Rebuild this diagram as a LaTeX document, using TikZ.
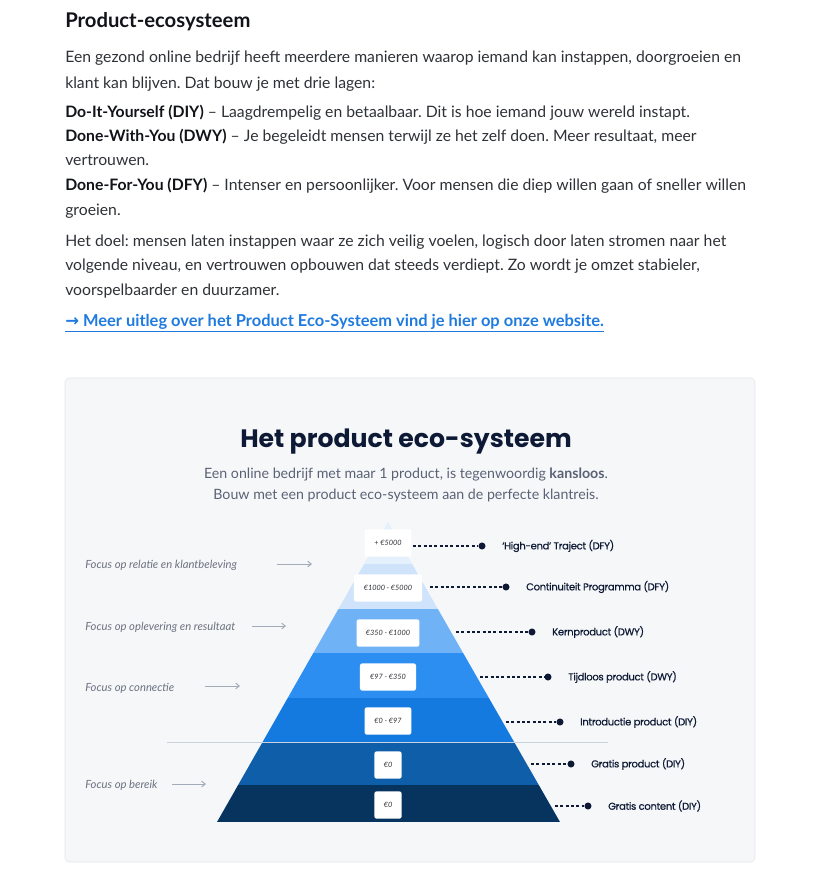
\documentclass[tikz,border=0pt]{standalone}
\usepackage{fontspec}
\setmainfont{Lato}
\newfontfamily\headfont{Poppins}
\newfontfamily\symfont{DejaVu Sans}
\usetikzlibrary{positioning,arrows.meta}
\frenchspacing

\definecolor{bodygray}{HTML}{2E3136}
\definecolor{inkblack}{HTML}{111318}
\definecolor{linkblue}{HTML}{1F7AE0}
\definecolor{cardfill}{HTML}{F6F7F9}
\definecolor{cardline}{HTML}{E2E5EA}
\definecolor{navy}{HTML}{0E1A35}
\definecolor{subgray}{HTML}{5A6275}
\definecolor{focusgray}{HTML}{6B7280}
\definecolor{arrowgray}{HTML}{A3AAB8}
\definecolor{sepgray}{HTML}{C9D1DD}
\definecolor{tierA}{HTML}{E4F0FC}
\definecolor{tierB}{HTML}{CFE4FB}
\definecolor{tierC}{HTML}{6FB2F5}
\definecolor{tierD}{HTML}{2B8EF0}
\definecolor{tierE}{HTML}{147AE0}
\definecolor{tierF}{HTML}{0F5EA9}
\definecolor{tierG}{HTML}{07345F}

\begin{document}
\begin{tikzpicture}[
    x=0.025cm, y=-0.025cm,
    bodytxt/.style={anchor=base west, inner sep=0pt, font=\fontsize{11.2}{13}\selectfont, text=bodygray},
    focus_lbl/.style={anchor=west, inner sep=0pt, font=\fontsize{8}{9}\selectfont\itshape, text=focusgray},
    focus_arrow/.style={-{Straight Barb[length=2.5pt,width=4pt]}, arrowgray, line width=0.7pt},
    price_box/.style={rectangle, rounded corners=1.5pt, fill=white, minimum height=0.68cm, inner sep=0pt, font=\fontsize{5.2}{6}\selectfont\itshape, text=bodygray},
    tier_line/.style={dash pattern=on 2pt off 1.8pt, navy, line width=0.8pt},
    tier_dot/.style={circle, fill=navy, inner sep=0pt, minimum size=5pt},
    tier_lbl/.style={anchor=west, inner sep=0pt, font=\headfont\addfontfeature{LetterSpace=-3,FakeBold=0.6}\fontsize{7.1}{9}\selectfont, text=navy}
]
    \useasboundingbox (0,0) rectangle (818,870);

    % Intro text
    \node[bodytxt, font=\fontsize{14.4}{17}\selectfont\bfseries, text=inkblack] (kop) at (65,27) {Product-ecosysteem};
    \node[bodytxt] (intro1) at (65,62) {Een gezond online bedrijf heeft meerdere manieren waarop iemand kan instappen, doorgroeien en};
    \node[bodytxt] (intro2) at (65,88) {klant kan blijven. Dat bouw je met drie lagen:};
    \node[bodytxt] (diy) at (65,117) {\textcolor{inkblack}{\bfseries Do-It-Yourself (DIY)} -- Laagdrempelig en betaalbaar. Dit is hoe iemand jouw wereld instapt.};
    \node[bodytxt] (dwy1) at (65,141) {\textcolor{inkblack}{\bfseries Done-With-You (DWY)} -- Je begeleidt mensen terwijl ze het zelf doen. Meer resultaat, meer};
    \node[bodytxt] (dwy2) at (65,165) {vertrouwen.};
    \node[bodytxt] (dfy1) at (65,190) {\textcolor{inkblack}{\bfseries Done-For-You (DFY)} -- Intenser en persoonlijker. Voor mensen die diep willen gaan of sneller willen};
    \node[bodytxt] (dfy2) at (65,215) {groeien.};
    \node[bodytxt] (doel1) at (65,246) {Het doel: mensen laten instappen waar ze zich veilig voelen, logisch door laten stromen naar het};
    \node[bodytxt] (doel2) at (65,270) {volgende niveau, en vertrouwen opbouwen dat steeds verdiept. Zo wordt je omzet stabieler,};
    \node[bodytxt] (doel3) at (65,295) {voorspelbaarder en duurzamer.};
    \node[bodytxt, text=linkblue, font=\fontsize{11.7}{13}\selectfont\bfseries] (link) at (65,326) {\underline{{\symfont →} Meer uitleg over het Product Eco-Systeem vind je hier op onze website.}};

    % Card
    \draw[cardline, fill=cardfill, rounded corners=3pt] (65,378) rectangle (755,862);
    \node[anchor=base, inner sep=0pt, font=\headfont\bfseries\fontsize{17.9}{20}\selectfont, text=navy] (titel) at (406,447) {Het product eco-systeem};
    \node[anchor=base, inner sep=0pt, font=\fontsize{10.1}{12}\selectfont, text=subgray] (sub1) at (406,478) {Een online bedrijf met maar 1 product, is tegenwoordig \textbf{kansloos}.};
    \node[anchor=base, inner sep=0pt, font=\fontsize{10.1}{12}\selectfont, text=subgray] (sub2) at (406,499) {Bouw met een product eco-systeem aan de perfecte klantreis.};

    % Pyramid
    \begin{scope}
        \clip (388,522) -- (560,822) -- (217,822) -- cycle;
        \fill[tierA] (200,520) rectangle (580,564);
        \fill[tierB] (200,564) rectangle (580,609);
        \fill[tierC] (200,609) rectangle (580,653);
        \fill[tierD] (200,653) rectangle (580,698);
        \fill[tierE] (200,698) rectangle (580,742);
        \fill[tierF] (200,742) rectangle (580,785);
        \fill[tierG] (200,785) rectangle (580,822);
    \end{scope}
    \draw[sepgray, line width=0.6pt] (167,742) -- (608,742);

    % Price boxes
    \node[price_box, minimum width=1.17cm] (p1) at (388,543) {+ €5000};
    \node[price_box, minimum width=1.7cm] (p2) at (388,588) {€1000 - €5000};
    \node[price_box, minimum width=1.57cm] (p3) at (388,633) {€350 - €1000};
    \node[price_box, minimum width=1.4cm] (p4) at (388,677) {€97 - €350};
    \node[price_box, minimum width=1.17cm] (p5) at (388,721) {€0 - €97};
    \node[price_box, minimum width=0.68cm] (p6) at (388,765) {€0};
    \node[price_box, minimum width=0.68cm] (p7) at (388,805) {€0};

    % Dots and labels
    \node[tier_dot] (d1) at (482,546) {};
    \node[tier_dot] (d2) at (506,587) {};
    \node[tier_dot] (d3) at (532,632) {};
    \node[tier_dot] (d4) at (548,677) {};
    \node[tier_dot] (d5) at (560,722) {};
    \node[tier_dot] (d6) at (571,764) {};
    \node[tier_dot] (d7) at (588,806) {};
    \node[tier_lbl, right=11.5pt of d1] (l1) {‘High-end’ Traject (DFY)};
    \node[tier_lbl, right=11.5pt of d2] (l2) {Continuiteit Programma (DFY)};
    \node[tier_lbl, right=11.5pt of d3] (l3) {Kernproduct (DWY)};
    \node[tier_lbl, right=11.5pt of d4] (l4) {Tijdloos product (DWY)};
    \node[tier_lbl, right=11.5pt of d5] (l5) {Introductie product (DIY)};
    \node[tier_lbl, right=11.5pt of d6] (l6) {Gratis product (DIY)};
    \node[tier_lbl, right=11.5pt of d7] (l7) {Gratis content (DIY)};

    % Dashed connectors
    \coordinate (e1) at (413,546);
    \coordinate (e2) at (430,587);
    \coordinate (e3) at (456,632);
    \coordinate (e4) at (480,677);
    \coordinate (e5) at (506,722);
    \coordinate (e6) at (531,764);
    \coordinate (e7) at (555,806);
    \draw[tier_line] (e1) -- (d1);
    \draw[tier_line] (e2) -- (d2);
    \draw[tier_line] (e3) -- (d3);
    \draw[tier_line] (e4) -- (d4);
    \draw[tier_line] (e5) -- (d5);
    \draw[tier_line] (e6) -- (d6);
    \draw[tier_line] (e7) -- (d7);

    % Focus labels
    \node[focus_lbl] (f1) at (85,565) {Focus op relatie en klantbeleving};
    \node[focus_lbl] (f2) at (85,627) {Focus op oplevering en resultaat};
    \node[focus_lbl] (f3) at (85,688) {Focus op connectie};
    \node[focus_lbl] (f4) at (85,785) {Focus op bereik};
    \coordinate (a1) at (277,564); \coordinate (b1) at (312,564);
    \coordinate (a2) at (252,626); \coordinate (b2) at (286,626);
    \coordinate (a3) at (205,686); \coordinate (b3) at (240,686);
    \coordinate (a4) at (172,784); \coordinate (b4) at (206,784);
    \draw[focus_arrow] (a1) -- (b1);
    \draw[focus_arrow] (a2) -- (b2);
    \draw[focus_arrow] (a3) -- (b3);
    \draw[focus_arrow] (a4) -- (b4);
\end{tikzpicture}
\end{document}
